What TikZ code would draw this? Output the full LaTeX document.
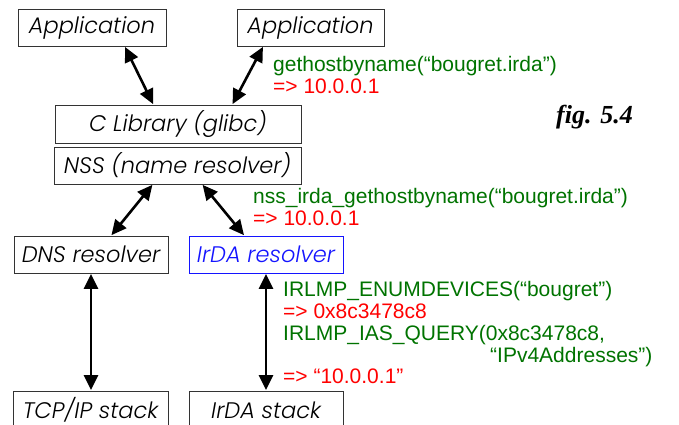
\documentclass[tikz,border=0pt]{standalone}
\usepackage{fontspec}
\setmainfont{Liberation Sans}
\newfontfamily\boxfont{Poppins Light Italic}
\newfontfamily\figfont{Liberation Serif}
\usetikzlibrary{arrows.meta,calc}
\definecolor{cgreen}{RGB}{0,115,0}
\definecolor{cred}{RGB}{255,0,0}
\definecolor{cblue}{RGB}{20,20,255}
\begin{document}
\begin{tikzpicture}[x=1pt,y=-1pt,
  box/.style={draw=black!80,line width=0.9pt,inner sep=0pt,font=\boxfont\fontsize{22.5}{26}\selectfont},
  link/.style={line width=2.6pt,{Triangle[length=15pt,width=14pt]}-{Triangle[length=15pt,width=14pt]},shorten <=0.5pt,shorten >=0.5pt},
  gtxt/.style={anchor=base west,inner sep=0pt,text=cgreen,font=\fontsize{21}{24}\selectfont},
  rtxt/.style={anchor=base west,inner sep=0pt,text=cred,font=\fontsize{21}{24}\selectfont}]
\useasboundingbox (0,0) rectangle (679,424);
\node[box,minimum width=148pt,minimum height=37pt] (app1) at (92,27.5) {Application};
\node[box,minimum width=147pt,minimum height=37pt] (app2) at (310.5,27.5) {Application};
\node[box,minimum width=246pt,minimum height=38pt] (clib) at (178,124) {C Library (glibc)};
\node[box,minimum width=247pt,minimum height=37pt] (nss) at (177.5,165.5) {NSS (name resolver)};
\node[box,minimum width=154pt,minimum height=37pt] (dns) at (91,254.5) {DNS resolver};
\node[box,draw=cblue,text=cblue,minimum width=154pt,minimum height=37pt] (irres) at (266,254.5) {IrDA resolver};
\node[box,minimum width=155pt,minimum height=38pt] (tcp) at (90.5,410) {TCP/IP stack};
\node[box,minimum width=154pt,minimum height=38pt] (irstack) at (266,410) {IrDA stack};

\draw[link] ($(app1.south west)!0.72!(app1.south east)$) -- ($(clib.north west)!0.40!(clib.north east)$);
\draw[link] ($(app2.south west)!0.18!(app2.south east)$) -- ($(clib.north west)!0.72!(clib.north east)$);
\draw[link] ($(nss.south west)!0.40!(nss.south east)$) -- ($(dns.north west)!0.63!(dns.north east)$);
\draw[link] ($(nss.south west)!0.60!(nss.south east)$) -- ($(irres.north west)!0.36!(irres.north east)$);
\draw[link] (dns.south) -- (dns.south |- tcp.north);
\draw[link] (irres.south) -- (irstack.north);

\node[gtxt] (t1) at (273,71.5) {gethostbyname(“bougret.irda”)};
\node[rtxt] (t2) at (273,93) {=> 10.0.0.1};
\node[anchor=base west,inner sep=0pt,font=\figfont\bfseries\itshape\fontsize{26}{30}\selectfont] (fig) at (556,123) {fig. 5.4};
\node[gtxt] (t3) at (253,203) {nss\_irda\_gethostbyname(“bougret.irda”)};
\node[rtxt] (t4) at (253,225) {=> 10.0.0.1};
\node[gtxt] (t5) at (283,296.5) {IRLMP\_ENUMDEVICES(“bougret”)};
\node[rtxt] (t6) at (283,318.3) {=> 0x8c3478c8};
\node[gtxt] (t7) at (283,340) {IRLMP\_IAS\_QUERY(0x8c3478c8,};
\node[gtxt] (t8) at (490,362) {“IPv4Addresses”)};
\node[rtxt] (t9) at (283,383.5) {=> “10.0.0.1”};
\end{tikzpicture}
\end{document}
